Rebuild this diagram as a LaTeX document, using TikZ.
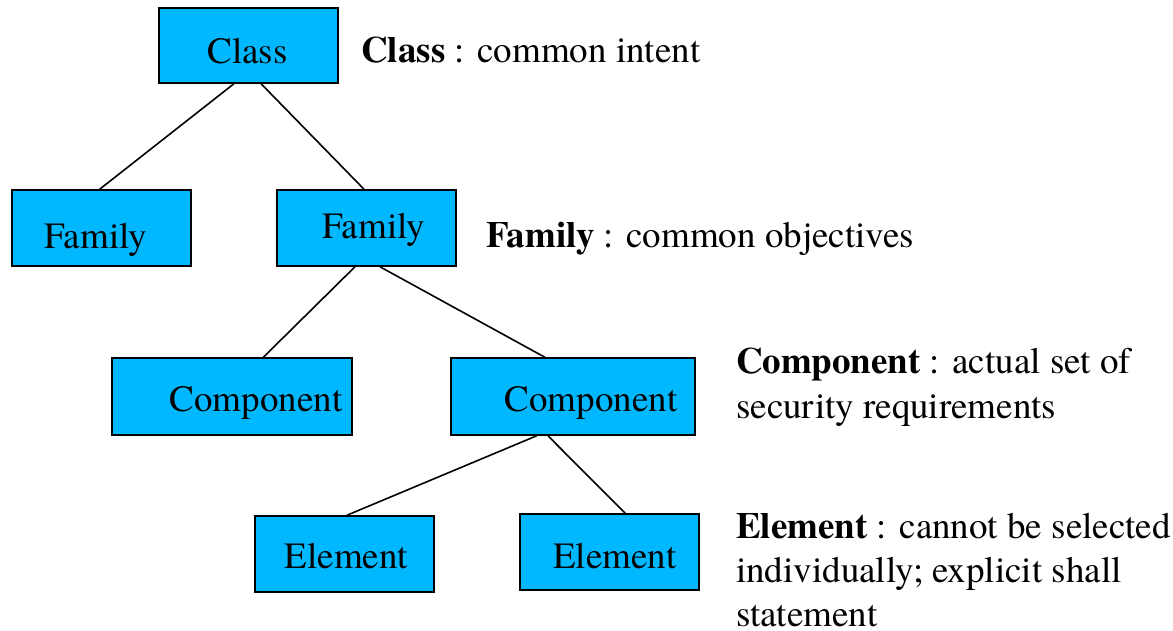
\documentclass[tikz,border=0pt]{standalone}
\usepackage{fontspec}
\setmainfont{texgyretermes}[Extension=.otf, UprightFont=*-regular, BoldFont=*-bold, ItalicFont=*-italic, BoldItalicFont=*-bolditalic]
\usetikzlibrary{calc}
\definecolor{boxfill}{RGB}{0,184,255}
\tikzset{
  box/.style={draw=black, fill=boxfill, line width=1.6pt, inner sep=0pt},
  boxtext/.style={anchor=base, inner sep=0pt, font=\fontsize{37}{45}\selectfont},
  note/.style={anchor=base west, inner sep=0pt, font=\fontsize{37}{45}\selectfont},
  link/.style={line width=1.6pt, black},
}
\begin{document}
\begin{tikzpicture}[x=1pt, y=-1pt]
\useasboundingbox (0,0) rectangle (1173,630);

% tree boxes
\node[box, minimum width=179pt, minimum height=75pt] (cls)  at (248.5,45.5) {};
\node[box, minimum width=179pt, minimum height=76pt] (famL) at (101.5,228) {};
\node[box, minimum width=179pt, minimum height=76pt] (famR) at (366.5,228) {};
\node[box, minimum width=240pt, minimum height=77pt] (cmpL) at (232,396.5) {};
\node[box, minimum width=244pt, minimum height=77pt] (cmpR) at (573,396.5) {};
\node[box, minimum width=179pt, minimum height=76pt] (eleL) at (344.5,554) {};
\node[box, minimum width=179pt, minimum height=76pt] (eleR) at (609.5,552) {};

% box captions
\node[boxtext] (tcls)  at (247.5,63)  {Class};
\node[boxtext] (tfamL) at (96,248)    {Family};
\node[boxtext] (tfamR) at (374,238)   {Family};
\node[boxtext] (tcmpL) at (256,411)   {Component};
\node[boxtext] (tcmpR) at (591,411)   {Component};
\node[boxtext] (teleL) at (346.5,568) {Element};
\node[boxtext] (teleR) at (615,568)   {Element};

% connectors
\draw[link] ($(cls.south west)!0.419!(cls.south east)$) -- ($(famL.north west)!0.49!(famL.north east)$);
\draw[link] ($(cls.south west)!0.57!(cls.south east)$) -- ($(famR.north west)!0.486!(famR.north east)$);
\draw[link] ($(famR.south west)!0.436!(famR.south east)$) -- ($(cmpL.north west)!0.63!(cmpL.north east)$);
\draw[link] ($(famR.south west)!0.575!(famR.south east)$) -- ($(cmpR.north west)!0.385!(cmpR.north east)$);
\draw[link] ($(cmpR.south west)!0.352!(cmpR.south east)$) -- ($(eleL.north west)!0.514!(eleL.north east)$);
\draw[link] ($(cmpR.south west)!0.398!(cmpR.south east)$) -- ($(eleR.north west)!0.587!(eleR.north east)$);

% descriptions
\node[note] (dcls) at (361,62)  {\textbf{Class} : common intent};
\node[note] (dfam) at (486,247) {\textbf{Family} : common objectives};
\node[note] (dcmp1) at (736,373) {\textbf{Component} : actual set of};
\node[note] (dcmp2) at (736,418) {security requirements};
\node[note] (dele1) at (736,538) {\textbf{Element} : cannot be selected};
\node[note] (dele2) at (736,582) {individually; explicit shall};
\node[note] (dele3) at (736,626) {statement};
\end{tikzpicture}
\end{document}
